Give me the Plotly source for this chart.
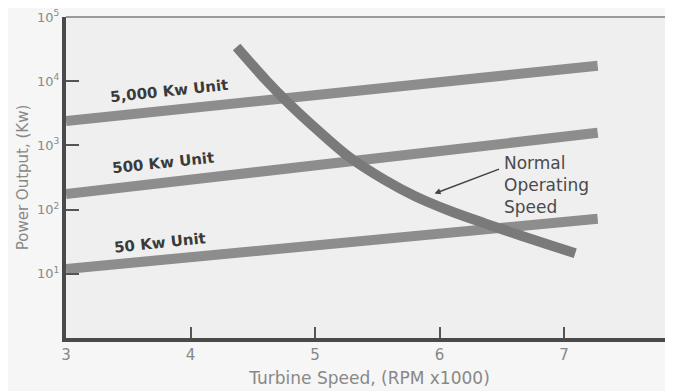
import plotly.graph_objects as go

# ---- data ----
unit_names = ["5,000 Kw Unit", "500 Kw Unit", "50 Kw Unit"]
unit_speed = [3.0, 7.27]                      # RPM x1000 (line ends)
unit_power = {
    "5,000 Kw Unit": [2390, 17400],
    "500 Kw Unit": [175, 1570],
    "50 Kw Unit": [11.9, 72],
}
label_pos = {   # (speed, log10 power) for the unit labels
    "5,000 Kw Unit": (3.835, 3.84),
    "500 Kw Unit": (3.78, 2.72),
    "50 Kw Unit": (3.755, 1.475),
}
op_speed = [4.37, 4.61, 4.78, 5.02, 5.28, 5.55, 5.80, 6.08, 6.37, 6.65, 6.89, 7.09]
op_power = [34000, 10200, 4690, 1740, 647, 297, 163, 96, 60.5, 39.6, 27.8, 20.9]

x_ticks = [3, 4, 5, 6, 7]
y_tickvals = [10, 100, 1000, 10000, 100000]
y_ticktext = ["10<sup>1</sup>", "10<sup>2</sup>", "10<sup>3</sup>", "10<sup>4</sup>", "10<sup>5</sup>"]

FONT = "DejaVu Sans, Liberation Sans, Arial"

fig = go.Figure()
for name in unit_names:
    fig.add_trace(go.Scatter(x=unit_speed, y=unit_power[name], mode="lines",
                             line=dict(color="#8d8d8d", width=10), showlegend=False,
                             hoverinfo="skip"))
fig.add_trace(go.Scatter(x=op_speed, y=op_power, mode="lines",
                         line=dict(color="#7a7a7a", width=10, shape="spline", smoothing=1),
                         showlegend=False, hoverinfo="skip"))

for name in unit_names:
    x, ly = label_pos[name]
    fig.add_annotation(x=x, y=ly, text="<b>%s</b>" % name, showarrow=False,
                       textangle=-6, font=dict(family=FONT, size=15, color="#3a3a3a"))

# arrow and caption
fig.add_annotation(x=5.96, y=2.25, ax=6.49, ay=2.64, axref="x", ayref="y",
                   xref="x", yref="y", showarrow=True, arrowhead=2, arrowsize=0.8,
                   arrowwidth=1.5, arrowcolor="#444", text="")
fig.add_annotation(x=6.50, y=2.38, xanchor="left", yanchor="middle", align="left",
                   text="Normal<br>Operating<br>Speed", showarrow=False,
                   font=dict(family=FONT, size=17, color="#4a4a4a"))

# top border
fig.add_shape(type="line", xref="paper", yref="paper", x0=0, x1=1, y0=1, y1=1,
              line=dict(color="#9a9a9a", width=2))

fig.update_layout(
    width=665, height=383,
    margin=dict(l=58, r=0, t=4, b=53),
    paper_bgcolor="#f6f6f6", plot_bgcolor="#efefef",
    font=dict(family=FONT, color="#888"),
    xaxis=dict(range=[3, 7.875], tickvals=x_ticks, ticks="inside", ticklen=11,
               tickwidth=1.5, tickcolor="#555", showgrid=False, zeroline=False,
               showline=True, linecolor="#4a4a4a", linewidth=4,
               tickfont=dict(size=15, color="#888"), ticklabeloverflow="allow",
               title=dict(text="Turbine Speed, (RPM x1000)", font=dict(size=17, color="#888"),
                          standoff=10)),
    yaxis=dict(type="log", range=[0, 5], tickvals=y_tickvals, ticktext=y_ticktext,
               ticks="inside", ticklen=13, tickwidth=1.5, tickcolor="#555",
               showgrid=False, zeroline=False, showline=True, linecolor="#4a4a4a",
               linewidth=4, tickfont=dict(size=13, color="#888"), ticklabeloverflow="allow",
               title=dict(text="Power Output, (Kw)", font=dict(size=15, color="#888"),
                          standoff=6)),
)

fig.write_html("out.html")
